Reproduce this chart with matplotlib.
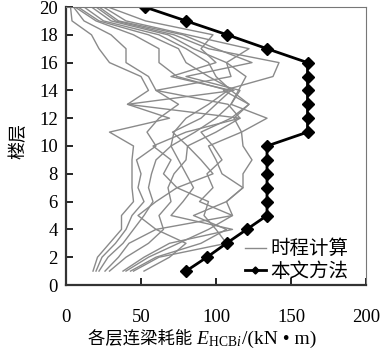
import numpy as np
import matplotlib
matplotlib.use("Agg")
from matplotlib import pyplot as plt
from matplotlib.offsetbox import TextArea, HPacker, AnchoredOffsetbox

plt.rcParams['font.family'] = ['Liberation Serif', 'Noto Sans CJK SC']
plt.rcParams['mathtext.fontset'] = 'custom'
plt.rcParams['mathtext.rm'] = 'Liberation Serif'
plt.rcParams['mathtext.it'] = 'Liberation Serif:italic'

floors = list(range(1, 21))

# time-history runs, energy per floor (floor 1 -> 20), kN*m
th_1 = [18, 21, 29, 37, 37, 45, 44, 44, 44, 45, 29, 69, 41, 55, 50, 29, 22, 17, 4, 3]
th_2 = [20, 24, 33, 40, 44, 52, 48, 50, 47, 60, 54, 62, 75, 60, 55, 40, 40, 30, 12, 5]
th_3 = [22, 28, 38, 45, 52, 58, 55, 57, 60, 70, 72, 80, 95, 108, 74, 62, 62, 45, 20, 6]
th_4 = [26, 35, 42, 60, 48, 60, 74, 65, 70, 58, 80, 116, 41, 112, 95, 80, 75, 55, 22, 8]
th_5 = [29, 40, 55, 65, 62, 70, 68, 72, 80, 81, 71, 90, 100, 110, 100, 95, 80, 62, 25, 12]
th_6 = [38, 52, 69, 111, 70, 78, 85, 80, 75, 70, 86, 100, 110, 115, 120, 107, 85, 68, 30, 17]
th_7 = [40, 55, 75, 95, 111, 89, 98, 94, 104, 98, 90, 110, 122, 105, 138, 142, 95, 72, 33, 20]
th_8 = [43, 60, 90, 107, 85, 107, 118, 118, 124, 118, 117, 134, 110, 116, 80, 124, 100, 78, 35, 22]
th_9 = [45, 62, 107, 100, 92, 95, 74, 98, 90, 81, 100, 116, 108, 60, 110, 107, 122, 81, 40, 25]
th_10 = [52, 69, 80, 60, 111, 107, 118, 104, 100, 95, 117, 112, 122, 110, 70, 100, 90, 98, 53, 28]
th_runs = [th_1, th_2, th_3, th_4, th_5, th_6, th_7, th_8, th_9, th_10]

# proposed method (本文方法)
method = [80, 94, 107, 120.5, 134, 134, 134, 134, 134, 134,
          161, 161, 161, 161, 161, 161, 134, 107.5, 80, 52.5]

fig = plt.figure(figsize=(3.92, 3.54), dpi=100)
ax = fig.add_axes([66/392, 1-285/354, 300/392, 278/354])

for i, run in enumerate(th_runs):
    ax.plot(run, floors, color='#8a8a8a', lw=1.0,
            label='时程计算' if i == 0 else None)
ax.plot(method, floors, color='black', lw=2.0, marker='D', ms=6.5,
        label='本文方法')

ax.set_xlim(0, 200)
ax.set_ylim(0, 20)
ax.set_xticks([0, 50, 100, 150, 200])
ax.set_yticks(range(0, 21, 2))
ax.tick_params(direction='in', length=5, width=1.2, labelsize=13.5)
ax.tick_params(axis='x', pad=17)
ax.tick_params(axis='y', pad=6)

for side in ['left', 'bottom']:
    ax.spines[side].set_linewidth(1.6)
    ax.spines[side].set_color('#333333')
for side in ['top', 'right']:
    ax.spines[side].set_linewidth(0.8)
    ax.spines[side].set_color('#777777')

leg = ax.legend(loc='lower left', bbox_to_anchor=(0.595, 0.015), frameon=False,
                fontsize=14, handlelength=1.1, handletextpad=0.25,
                labelspacing=0.2, borderpad=0, borderaxespad=0, markerscale=0.55)

# y label
fig.text(19/392, 1-141/354, '楼层', rotation=90, ha='center', va='center',
         fontsize=13)

# x label made of pieces (CJK + math + serif)
t1 = TextArea('各层连梁耗能 ', textprops=dict(fontsize=12.5, family=['Noto Sans CJK SC']))
t2 = TextArea(r'$E_{\mathrm{HCB}i}$', textprops=dict(fontsize=14))
t3 = TextArea('/(kN • m)', textprops=dict(fontsize=14, family=['Liberation Serif']))
box = HPacker(children=[t1, t2, t3], align='baseline', pad=0, sep=0)
ab = AnchoredOffsetbox(loc='center', child=box, frameon=False, pad=0, borderpad=0,
                       bbox_to_anchor=(202/392, 1-339/354),
                       bbox_transform=fig.transFigure)
fig.add_artist(ab)

fig.savefig('out.png', dpi=100)
